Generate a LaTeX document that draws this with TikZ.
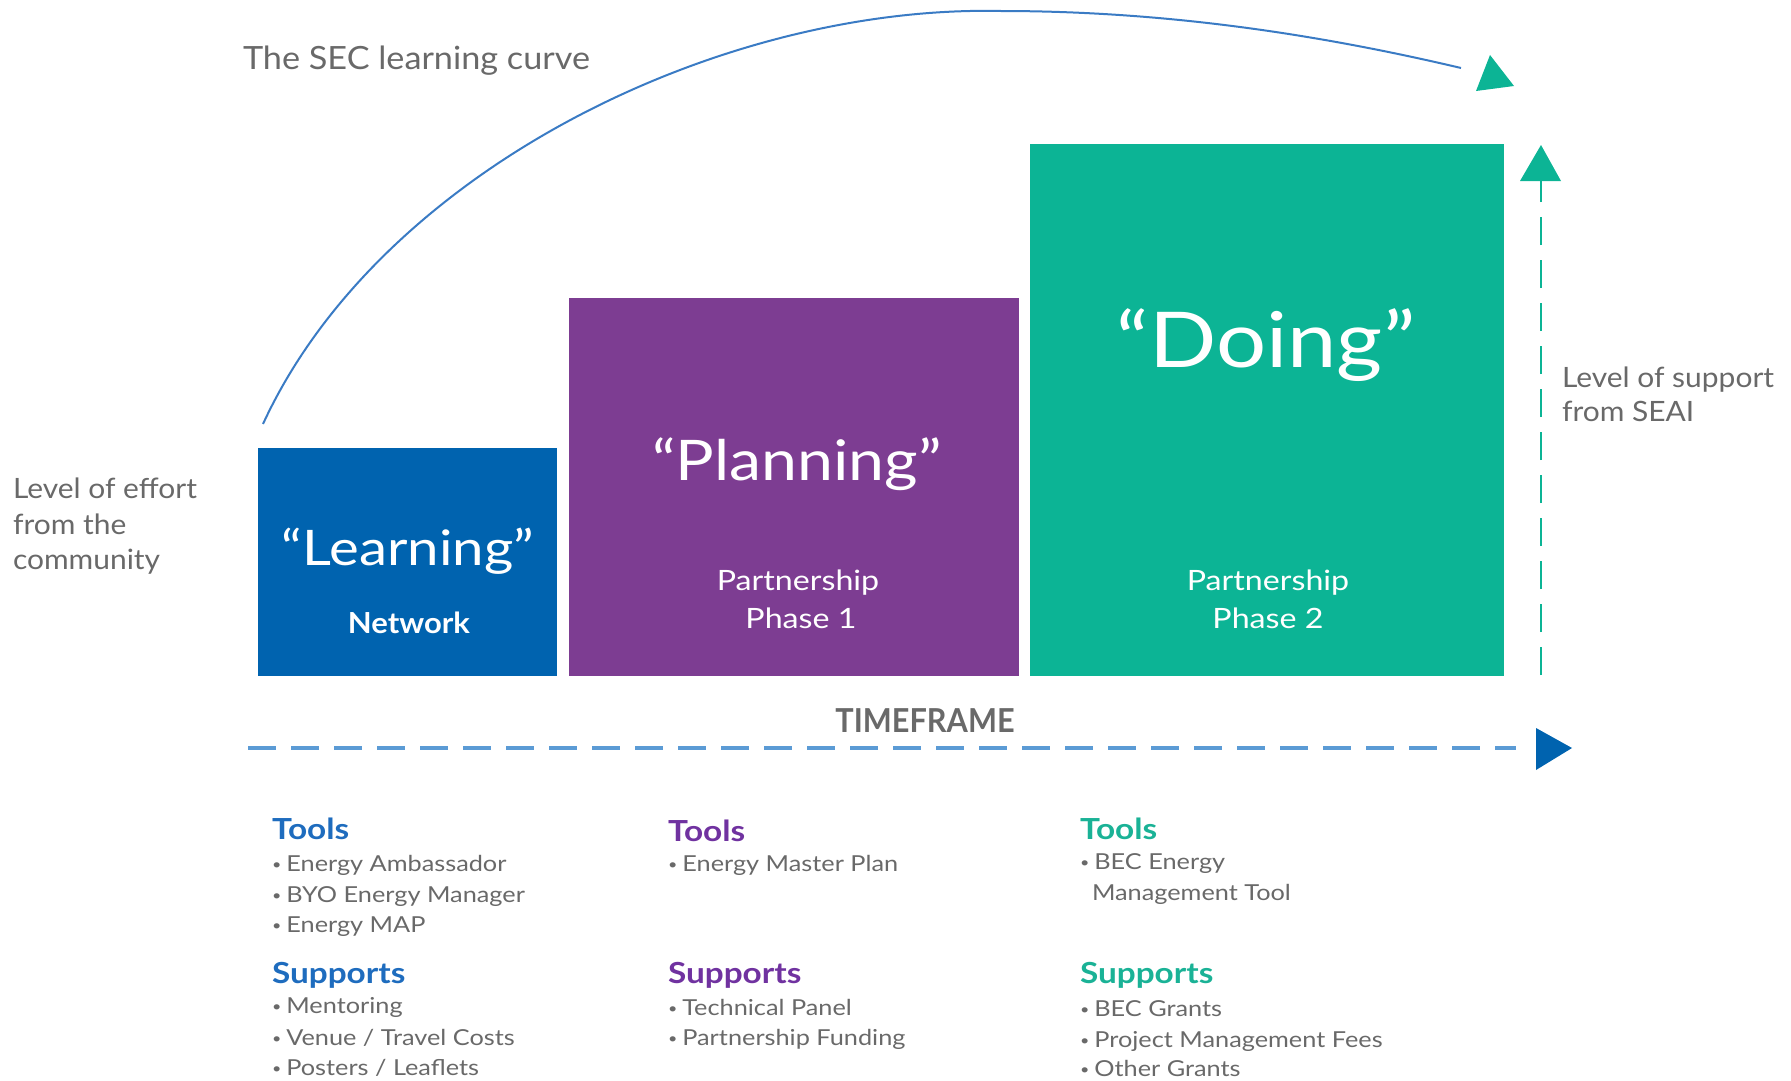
\documentclass[tikz,border=0pt]{standalone}
\usepackage{fontspec}
\setmainfont{Lato}
\newfontfamily\latoA[FakeStretch=1.07]{Lato}
\newfontfamily\latoB[FakeStretch=1.15]{Lato}
\newfontfamily\latoC[FakeStretch=0.93]{Lato}
\definecolor{blueC}{RGB}{0,99,175}
\definecolor{purpleC}{RGB}{125,61,146}
\definecolor{greenC}{RGB}{12,180,149}
\definecolor{curveC}{RGB}{58,123,196}
\definecolor{dashC}{RGB}{91,155,213}
\definecolor{grayT}{RGB}{105,105,105}
\definecolor{headA}{RGB}{30,108,190}
\definecolor{headB}{RGB}{112,50,160}
\definecolor{headC}{RGB}{26,178,150}
\newcommand\bul{\raisebox{2pt}{\fontsize{14}{14}\selectfont•}\hspace{5pt}}
\begin{document}
\begin{tikzpicture}[x=1pt,y=-1pt,
  box/.style={draw=none,inner sep=0pt,outer sep=0pt,anchor=north west},
  lbl/.style={inner sep=0pt,outer sep=0pt,text=grayT},
  wt/.style={inner sep=0pt,outer sep=0pt,text=white,anchor=base},
  big/.style={font=\latoB\fontsize{#1}{#1}\selectfont},
  item/.style={lbl,anchor=base west,font=\latoB\fontsize{22}{26}\selectfont},
  head/.style={inner sep=0pt,outer sep=0pt,anchor=base west,font=\latoB\fontsize{29}{34}\selectfont\bfseries,text=#1},
  side/.style={lbl,anchor=base west,font=\latoA\fontsize{28}{34}\selectfont},
  curveline/.style={draw=curveC,line width=2pt},
  dashh/.style={draw=dashC,line width=4pt,dash pattern=on 28pt off 15pt},
  dashv/.style={draw=greenC,line width=2.5pt,dash pattern=on 28pt off 15pt}
]
\useasboundingbox (0,0) rectangle (1791,1081);

% boxes
\node[box,fill=blueC,minimum width=299pt,minimum height=228pt] (learn) at (258,448) {};
\node[box,fill=purpleC,minimum width=450pt,minimum height=378pt] (plan) at (569,298) {};
\node[box,fill=greenC,minimum width=474pt,minimum height=532pt] (doing) at (1030,144) {};

% box texts
\node[wt,big=49] (tlearn) at (408,565) {“Learning”};
\node[wt,font=\latoA\fontsize{29}{29}\selectfont\bfseries] (tnet) at (409,633) {Network};
\node[wt,big=56] (tplan) at (797,480) {“Planning”};
\node[wt,big=28] (tp1a) at (798,590) {Partnership};
\node[wt,big=28] (tp1b) at (801,628) {Phase 1};
\node[wt,big=77] (tdo) at (1266,367) {“Doing”};
\node[wt,big=28] (tp2a) at (1268,590) {Partnership};
\node[wt,big=28] (tp2b) at (1268,628) {Phase 2};

% learning curve
\coordinate (cs) at (263,424);
\coordinate (cpk) at (1000,11);
\coordinate (ce) at (1461,68);
\draw[curveline] (cs) .. controls (380,170) and (720,5) .. (cpk) .. controls (1150,11) and (1300,30) .. (ce);
\fill[greenC] (1490,55) -- (1514,86) -- (1476,91) -- cycle;
\node[lbl,anchor=base west,font=\latoA\fontsize{32}{36}\selectfont] (title) at (243,70) {The SEC learning curve};

% support arrow
\coordinate (vb) at (1541,675);
\coordinate (vt) at (1541,181);
\draw[dashv] (vb) -- (vt);
\fill[greenC] (1541,145) -- (1561,181) -- (1520,181) -- cycle;
\node[side] (sup1) at (1562,387) {Level of support};
\node[side] (sup2) at (1562,421) {from SEAI};

% effort label
\node[side] (eff1) at (13,498) {Level of effort};
\node[side] (eff2) at (13,534) {from the};
\node[side] (eff3) at (13,569) {community};

% timeframe
\coordinate (hs) at (248,748);
\coordinate (he) at (1516,748);
\draw[dashh] (hs) -- (he);
\fill[blueC] (1536,728) -- (1572,748) -- (1536,770) -- cycle;
\node[lbl,anchor=base,font=\latoC\fontsize{33}{36}\selectfont\bfseries] (tf) at (925,732) {TIMEFRAME};

% column 1
\node[head=headA] (c1t) at (272,839) {Tools};
\node[item] (c1a) at (272,871) {\bul Energy Ambassador};
\node[item] (c1b) at (272,902) {\bul BYO Energy Manager};
\node[item] (c1c) at (272,932) {\bul Energy MAP};
\node[head=headA] (c1s) at (272,983) {Supports};
\node[item] (c1d) at (272,1013) {\bul Mentoring};
\node[item] (c1e) at (272,1045) {\bul Venue / Travel Costs};
\node[item] (c1f) at (272,1075) {\bul Posters / Leaflets};

% column 2
\node[head=headB] (c2t) at (668,841) {Tools};
\node[item] (c2a) at (668,871) {\bul Energy Master Plan};
\node[head=headB] (c2s) at (668,983) {Supports};
\node[item] (c2b) at (668,1015) {\bul Technical Panel};
\node[item] (c2c) at (668,1045) {\bul Partnership Funding};

% column 3
\node[head=headC] (c3t) at (1080,839) {Tools};
\node[item] (c3a) at (1080,869) {\bul BEC Energy};
\node[item] (c3b) at (1092,900) {Management Tool};
\node[head=headC] (c3s) at (1080,983) {Supports};
\node[item] (c3c) at (1080,1016) {\bul BEC Grants};
\node[item] (c3d) at (1080,1047) {\bul Project Management Fees};
\node[item] (c3e) at (1080,1076) {\bul Other Grants};
\end{tikzpicture}
\end{document}
